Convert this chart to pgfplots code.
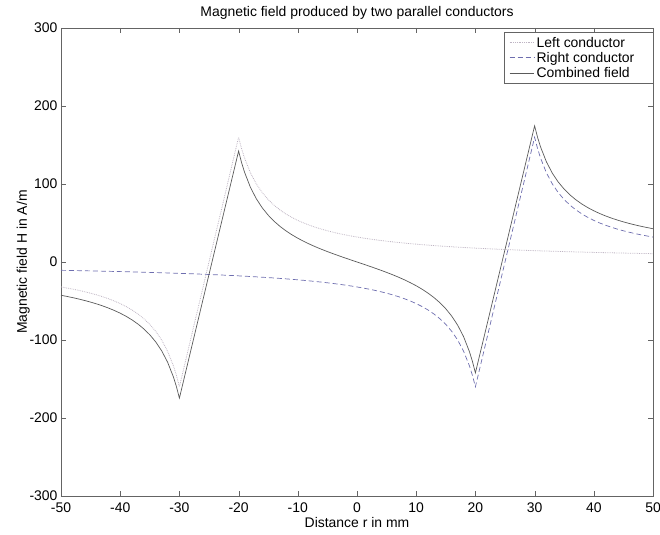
\documentclass[border=0pt]{standalone}
\usepackage{pgfplots}
\pgfplotsset{compat=1.18}
\usepackage{pgfplotstable}
\usepackage{fontspec}
\setmainfont{Liberation Sans}
\definecolor{leftc}{RGB}{190,180,195}
\definecolor{rightc}{RGB}{110,110,175}
\definecolor{combc}{RGB}{90,90,90}
\definecolor{axc}{RGB}{100,100,100}

\pgfplotstableread{
x y
-50 -32
-49 -33.33
-48 -34.78
-47 -36.36
-46 -38.10
-45 -40
-44 -42.11
-43 -44.44
-42 -47.06
-41 -50
-40 -53.33
-39 -57.14
-38 -61.54
-37 -66.67
-36 -72.73
-35 -80
-34 -88.89
-33 -100
-32 -114.29
-31 -133.33
-30.5 -145.45
-30 -160
-20 160
-19.5 145.45
-19 133.33
-18 114.29
-17 100
-16 88.89
-15 80
-14 72.73
-13 66.67
-12 61.54
-11 57.14
-10 53.33
-9 50
-8 47.06
-7 44.44
-6 42.11
-5 40
-4 38.10
-3 36.36
-2 34.78
-1 33.33
0 32
1 30.77
2 29.63
3 28.57
4 27.59
5 26.67
6 25.81
7 25
8 24.24
9 23.53
10 22.86
11 22.22
12 21.62
13 21.05
14 20.51
15 20
16 19.51
17 19.05
18 18.60
19 18.18
20 17.78
21 17.39
22 17.02
23 16.67
24 16.33
25 16
26 15.69
27 15.38
28 15.09
29 14.81
30 14.55
31 14.29
32 14.04
33 13.79
34 13.56
35 13.33
36 13.11
37 12.90
38 12.70
39 12.5
40 12.31
41 12.12
42 11.94
43 11.76
44 11.59
45 11.43
46 11.27
47 11.11
48 10.96
49 10.81
50 10.67
}\leftdata

\pgfplotstableread{
x y
-50 -10.67
-49 -10.81
-48 -10.96
-47 -11.11
-46 -11.27
-45 -11.43
-44 -11.59
-43 -11.76
-42 -11.94
-41 -12.12
-40 -12.31
-39 -12.5
-38 -12.70
-37 -12.90
-36 -13.11
-35 -13.33
-34 -13.56
-33 -13.79
-32 -14.04
-31 -14.29
-30 -14.55
-29 -14.81
-28 -15.09
-27 -15.38
-26 -15.69
-25 -16
-24 -16.33
-23 -16.67
-22 -17.02
-21 -17.39
-20 -17.78
-19 -18.18
-18 -18.60
-17 -19.05
-16 -19.51
-15 -20
-14 -20.51
-13 -21.05
-12 -21.62
-11 -22.22
-10 -22.86
-9 -23.53
-8 -24.24
-7 -25
-6 -25.81
-5 -26.67
-4 -27.59
-3 -28.57
-2 -29.63
-1 -30.77
0 -32
1 -33.33
2 -34.78
3 -36.36
4 -38.10
5 -40
6 -42.11
7 -44.44
8 -47.06
9 -50
10 -53.33
11 -57.14
12 -61.54
13 -66.67
14 -72.73
15 -80
16 -88.89
17 -100
18 -114.29
19 -133.33
19.5 -145.45
20 -160
30 160
30.5 145.45
31 133.33
32 114.29
33 100
34 88.89
35 80
36 72.73
37 66.67
38 61.54
39 57.14
40 53.33
41 50
42 47.06
43 44.44
44 42.11
45 40
46 38.10
47 36.36
48 34.78
49 33.33
50 32
}\rightdata

\pgfplotstableread{
x y
-50 -42.67
-49 -44.14
-48 -45.74
-47 -47.47
-46 -49.37
-45 -51.43
-44 -53.70
-43 -56.21
-42 -59.00
-41 -62.12
-40 -65.64
-39 -69.64
-38 -74.24
-37 -79.57
-36 -85.84
-35 -93.33
-34 -102.45
-33 -113.79
-32 -128.32
-31 -147.62
-30.5 -159.87
-30 -174.55
-25 -16
-20 142.22
-19.5 127.48
-19 115.15
-18 95.68
-17 80.95
-16 69.38
-15 60
-14 52.21
-13 45.61
-12 39.92
-11 34.92
-10 30.48
-9 26.47
-8 22.82
-7 19.44
-6 16.30
-5 13.33
-4 10.51
-3 7.79
-2 5.15
-1 2.56
0 0
1 -2.56
2 -5.15
3 -7.79
4 -10.51
5 -13.33
6 -16.30
7 -19.44
8 -22.82
9 -26.47
10 -30.48
11 -34.92
12 -39.92
13 -45.61
14 -52.21
15 -60
16 -69.38
17 -80.95
18 -95.68
19 -115.15
19.5 -127.48
20 -142.22
25 16
30 174.55
30.5 159.87
31 147.62
32 128.32
33 113.79
34 102.45
35 93.33
36 85.84
37 79.57
38 74.24
39 69.64
40 65.64
41 62.12
42 59.00
43 56.21
44 53.70
45 51.43
46 49.37
47 47.47
48 45.74
49 44.14
50 42.67
}\combdata

\begin{document}
\begin{tikzpicture}
\begin{axis}[
  scale only axis,
  width=592bp, height=468bp,
  xmin=-50, xmax=50, ymin=-300, ymax=300,
  xtick={-50,-40,...,50},
  ytick={-300,-200,...,300},
  tick align=inside,
  major tick length=5bp,
  axis line style={axc},
  tick style={axc},
  every tick label/.append style={font=\fontsize{14}{16}\selectfont},
  /pgf/number format/assume math mode=true,
  xticklabel style={yshift=-3.5bp},
  label style={font=\fontsize{14}{16}\selectfont},
  title style={font=\fontsize{14}{16}\selectfont, yshift=-1bp},
  xlabel={Distance r in mm},
  ylabel={Magnetic field H in A/m},
  title={Magnetic field produced by two parallel conductors},
  xlabel style={yshift=2.5bp},
  ylabel style={yshift=-7bp},
  legend style={at={(1,0.992)}, anchor=north east, draw=axc,
    font=\fontsize{14}{16}\selectfont, inner xsep=4.5bp, inner ysep=3bp, row sep=-0.5bp,
    legend cell align=left},
  legend image post style={xscale=1.45},
]
\addplot[leftc, densely dotted, line width=0.8pt] table {\leftdata};
\addlegendentry{Left conductor\kern12bp}
\addplot[rightc, dash pattern=on 5bp off 3bp, line width=0.7pt] table {\rightdata};
\addlegendentry{Right conductor\kern12bp}
\addplot[combc, line width=0.7pt] table {\combdata};
\addlegendentry{Combined field\kern12bp}
\end{axis}
\pgfresetboundingbox
\path[use as bounding box] ([xshift=-61bp,yshift=-39bp]current axis.south west) rectangle ([xshift=7bp,yshift=28bp]current axis.north east);
\end{tikzpicture}
\end{document}
